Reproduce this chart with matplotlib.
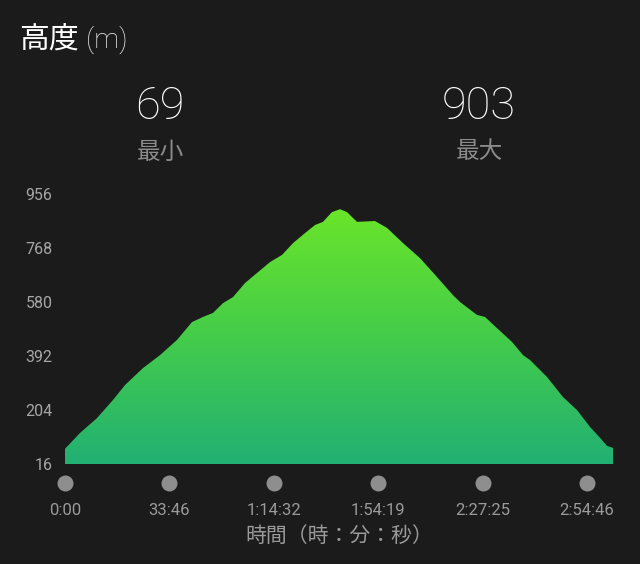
import numpy as np
import matplotlib.pyplot as plt
from matplotlib.colors import LinearSegmentedColormap

# ---- data ----
# position along the track (in units of the tick spacing) and elevation (m)
track_pos = [0.000, 0.000, 0.144, 0.307, 0.460, 0.575, 0.747, 0.910, 1.073, 1.216,
             1.322, 1.418, 1.513, 1.609, 1.724, 1.839, 1.964, 2.079, 2.184, 2.299,
             2.395, 2.471, 2.557, 2.634, 2.701, 2.797, 2.969, 3.084, 3.238, 3.400,
             3.563, 3.716, 3.784, 3.946, 4.023, 4.138, 4.282, 4.387, 4.454, 4.617,
             4.770, 4.904, 5.029, 5.125, 5.192, 5.249, 5.249]
elevation = [16, 69, 124, 176, 239, 291, 350, 395, 448, 510,
             528, 542, 576, 597, 646, 681, 719, 744, 785, 820,
             848, 859, 893, 903, 893, 859, 862, 838, 785, 733,
             667, 604, 580, 535, 528, 489, 441, 395, 378, 319,
             249, 204, 145, 107, 79, 72, 16]
tick_pos = [0, 1, 2, 3, 4, 5]
tick_labels = ["0:00", "33:46", "1:14:32", "1:54:19", "2:27:25", "2:54:46"]
y_ticks = [16, 204, 392, 580, 768, 956]
min_elev = 69
max_elev = 903

BG = "#1b1b1b"
W, H = 640, 564
fig = plt.figure(figsize=(W / 100, H / 100), dpi=100, facecolor=BG)

# axes: x 65..613 px, y 194..464 px
ax = fig.add_axes([65 / W, 1 - 464 / H, (613 - 65) / W, (464 - 194) / H])
ax.set_facecolor(BG)
ax.set_xlim(0, 5.249)
ax.set_ylim(16, 956)
for s in ax.spines.values():
    s.set_visible(False)

# gradient fill
cmap = LinearSegmentedColormap.from_list("g", ["#22b074", "#44cc4a", "#6ae52a"])
poly = ax.fill(track_pos, elevation, facecolor="none", edgecolor="none")[0]
grad = np.linspace(0, 1, 256).reshape(-1, 1)
im = ax.imshow(grad, cmap=cmap, origin="lower", aspect="auto",
               extent=[0, 5.249, 16, max_elev], zorder=2)
im.set_clip_path(poly)

# y ticks
ax.set_yticks(y_ticks)
ax.set_yticklabels([str(v) for v in y_ticks])
ax.tick_params(axis="y", length=0, pad=9, labelsize=11.5, labelcolor="#a6a6a6")
for t in ax.get_yticklabels():
    t.set_fontfamily(["Roboto", "DejaVu Sans"])

# x ticks
ax.set_xticks(tick_pos)
ax.set_xticklabels(tick_labels)
ax.tick_params(axis="x", length=0, pad=28, labelsize=12, labelcolor="#9a9a9a")
for t in ax.get_xticklabels():
    t.set_fontfamily(["Roboto", "DejaVu Sans"])

# dots
ax.plot(tick_pos, [-0.07] * len(tick_pos), "o", color="#8e8e8e", ms=11.5,
        transform=ax.get_xaxis_transform(), clip_on=False, mec="none")

cjk = ["Noto Sans CJK JP", "DejaVu Sans"]
ax.set_xlabel("時間（時：分：秒）", fontsize=15, color="#9a9a9a",
              family=cjk, labelpad=5)

# header texts
fig.text(19 / W, 1 - 40 / H, "高度", fontsize=21.5, color="white", family=cjk,
         va="center", ha="left")
fig.text(86 / W, 1 - 40 / H, "(m)", fontsize=20, color="#eeeeee",
         family=["Roboto", "DejaVu Sans"], fontweight="light", va="center", ha="left")

fig.text(160 / W, 1 - 107 / H, str(min_elev), fontsize=32.5, color="white",
         family=["Roboto", "DejaVu Sans"], fontweight="light", ha="center", va="center")
fig.text(160 / W, 1 - 152 / H, "最小", fontsize=17, color="#8c8c8c",
         family=cjk, ha="center", va="center")
fig.text(479 / W, 1 - 107 / H, str(max_elev), fontsize=32.5, color="white",
         family=["Roboto", "DejaVu Sans"], fontweight="light", ha="center", va="center")
fig.text(479 / W, 1 - 152 / H, "最大", fontsize=17, color="#8c8c8c",
         family=cjk, ha="center", va="center")

fig.savefig("out.png", dpi=100, facecolor=BG)
